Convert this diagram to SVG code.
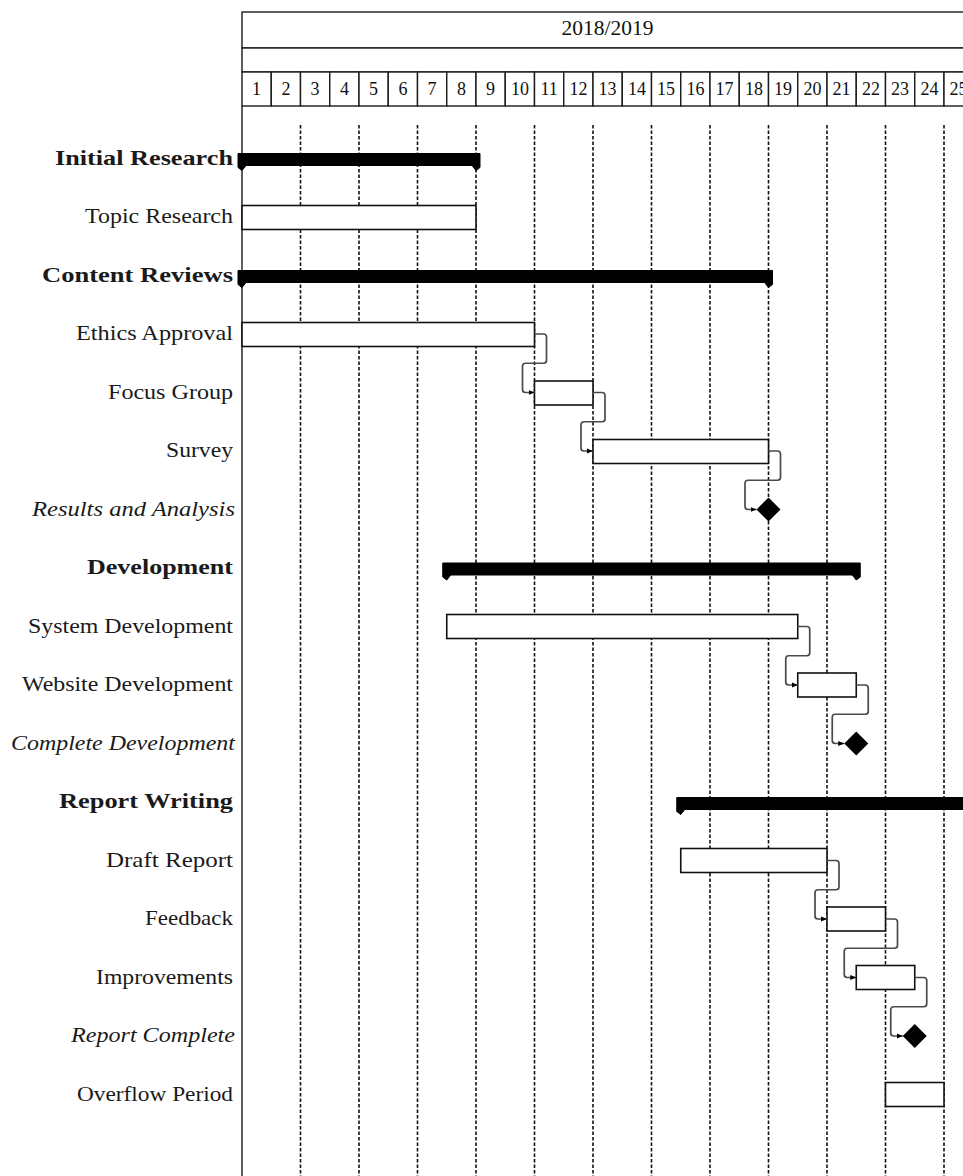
<svg xmlns="http://www.w3.org/2000/svg" width="963" height="1176" viewBox="0 0 963 1176">
<style>
.bg{fill:#ffffff}
.hdr{fill:#ffffff;stroke:#1a1a1a;stroke-width:1.4}
.num{font-family:"Liberation Serif","Times New Roman",serif;font-size:18px;fill:#111;text-anchor:middle}
.title{font-family:"Liberation Serif","Times New Roman",serif;font-size:20px;fill:#111}
.grid{stroke:#111;stroke-width:1.6;stroke-dasharray:3.5 2;fill:none}
.axis{stroke:#1a1a1a;stroke-width:1.4;fill:none}
.lbl{font-family:"Liberation Serif","Times New Roman",serif;font-size:21px;fill:#1a1a1a}
.grp{font-weight:bold}
.ms{font-style:italic}
.bar{fill:#ffffff;stroke:#111;stroke-width:1.6}
.gbar{fill:#000;stroke:#000;stroke-width:1;stroke-linejoin:round}
.dia{fill:#000}
.link{fill:none;stroke:#4a4a4a;stroke-width:1.7;stroke-linejoin:round}
</style>
<defs>
<marker id="arr" markerUnits="userSpaceOnUse" markerWidth="7" markerHeight="6" refX="6" refY="3" orient="auto">
<path d="M0,0.5 L6,3 L0,5.5 z" fill="#000"/>
</marker>
</defs>
<rect class="bg" x="0" y="0" width="963" height="1176"/>

<g id="header">
<rect class="hdr" x="242" y="12" width="731.25" height="36"/>
<rect class="hdr" x="242" y="48" width="731.25" height="24"/>
<text class="title" x="607.6" y="35" text-anchor="middle" textLength="92" lengthAdjust="spacingAndGlyphs">2018/2019</text>
<g id="weeks">
<rect class="hdr" x="242" y="72" width="29.25" height="34"/><text class="num" x="256.6" y="95">1</text>
<rect class="hdr" x="271.25" y="72" width="29.25" height="34"/><text class="num" x="285.9" y="95">2</text>
<rect class="hdr" x="300.5" y="72" width="29.25" height="34"/><text class="num" x="315.1" y="95">3</text>
<rect class="hdr" x="329.75" y="72" width="29.25" height="34"/><text class="num" x="344.4" y="95">4</text>
<rect class="hdr" x="359" y="72" width="29.25" height="34"/><text class="num" x="373.6" y="95">5</text>
<rect class="hdr" x="388.25" y="72" width="29.25" height="34"/><text class="num" x="402.9" y="95">6</text>
<rect class="hdr" x="417.5" y="72" width="29.25" height="34"/><text class="num" x="432.1" y="95">7</text>
<rect class="hdr" x="446.75" y="72" width="29.25" height="34"/><text class="num" x="461.4" y="95">8</text>
<rect class="hdr" x="476" y="72" width="29.25" height="34"/><text class="num" x="490.6" y="95">9</text>
<rect class="hdr" x="505.25" y="72" width="29.25" height="34"/><text class="num" x="519.9" y="95">10</text>
<rect class="hdr" x="534.5" y="72" width="29.25" height="34"/><text class="num" x="549.1" y="95">11</text>
<rect class="hdr" x="563.75" y="72" width="29.25" height="34"/><text class="num" x="578.4" y="95">12</text>
<rect class="hdr" x="593" y="72" width="29.25" height="34"/><text class="num" x="607.6" y="95">13</text>
<rect class="hdr" x="622.25" y="72" width="29.25" height="34"/><text class="num" x="636.9" y="95">14</text>
<rect class="hdr" x="651.5" y="72" width="29.25" height="34"/><text class="num" x="666.1" y="95">15</text>
<rect class="hdr" x="680.75" y="72" width="29.25" height="34"/><text class="num" x="695.4" y="95">16</text>
<rect class="hdr" x="710" y="72" width="29.25" height="34"/><text class="num" x="724.6" y="95">17</text>
<rect class="hdr" x="739.25" y="72" width="29.25" height="34"/><text class="num" x="753.9" y="95">18</text>
<rect class="hdr" x="768.5" y="72" width="29.25" height="34"/><text class="num" x="783.1" y="95">19</text>
<rect class="hdr" x="797.75" y="72" width="29.25" height="34"/><text class="num" x="812.4" y="95">20</text>
<rect class="hdr" x="827" y="72" width="29.25" height="34"/><text class="num" x="841.6" y="95">21</text>
<rect class="hdr" x="856.25" y="72" width="29.25" height="34"/><text class="num" x="870.9" y="95">22</text>
<rect class="hdr" x="885.5" y="72" width="29.25" height="34"/><text class="num" x="900.1" y="95">23</text>
<rect class="hdr" x="914.75" y="72" width="29.25" height="34"/><text class="num" x="929.4" y="95">24</text>
<rect class="hdr" x="944" y="72" width="29.25" height="34"/><text class="num" x="958.6" y="95">25</text>
</g>
</g>

<g id="grid">
<line class="grid" x1="300.5" y1="125" x2="300.5" y2="1176"/>
<line class="grid" x1="359" y1="125" x2="359" y2="1176"/>
<line class="grid" x1="417.5" y1="125" x2="417.5" y2="1176"/>
<line class="grid" x1="476" y1="125" x2="476" y2="1176"/>
<line class="grid" x1="534.5" y1="125" x2="534.5" y2="1176"/>
<line class="grid" x1="593" y1="125" x2="593" y2="1176"/>
<line class="grid" x1="651.5" y1="125" x2="651.5" y2="1176"/>
<line class="grid" x1="710" y1="125" x2="710" y2="1176"/>
<line class="grid" x1="768.5" y1="125" x2="768.5" y2="1176"/>
<line class="grid" x1="827" y1="125" x2="827" y2="1176"/>
<line class="grid" x1="885.5" y1="125" x2="885.5" y2="1176"/>
<line class="grid" x1="944" y1="125" x2="944" y2="1176"/>
<line class="axis" x1="242" y1="106" x2="242" y2="1176"/>
</g>

<g id="labels">
<text class="lbl grp" x="55" y="164.5" textLength="178" lengthAdjust="spacingAndGlyphs">Initial Research</text>
<text class="lbl" x="85" y="223" textLength="148" lengthAdjust="spacingAndGlyphs">Topic Research</text>
<text class="lbl grp" x="42" y="281.5" textLength="191" lengthAdjust="spacingAndGlyphs">Content Reviews</text>
<text class="lbl" x="76" y="340" textLength="157" lengthAdjust="spacingAndGlyphs">Ethics Approval</text>
<text class="lbl" x="108" y="398.5" textLength="125" lengthAdjust="spacingAndGlyphs">Focus Group</text>
<text class="lbl" x="166" y="457" textLength="67" lengthAdjust="spacingAndGlyphs">Survey</text>
<text class="lbl ms" x="32" y="515.5" textLength="203" lengthAdjust="spacingAndGlyphs">Results and Analysis</text>
<text class="lbl grp" x="87" y="574" textLength="146" lengthAdjust="spacingAndGlyphs">Development</text>
<text class="lbl" x="28" y="632.5" textLength="205" lengthAdjust="spacingAndGlyphs">System Development</text>
<text class="lbl" x="22" y="691" textLength="211" lengthAdjust="spacingAndGlyphs">Website Development</text>
<text class="lbl ms" x="11" y="749.5" textLength="224" lengthAdjust="spacingAndGlyphs">Complete Development</text>
<text class="lbl grp" x="59" y="808" textLength="174" lengthAdjust="spacingAndGlyphs">Report Writing</text>
<text class="lbl" x="106" y="866.5" textLength="127" lengthAdjust="spacingAndGlyphs">Draft Report</text>
<text class="lbl" x="145" y="925" textLength="88" lengthAdjust="spacingAndGlyphs">Feedback</text>
<text class="lbl" x="96" y="983.5" textLength="137" lengthAdjust="spacingAndGlyphs">Improvements</text>
<text class="lbl ms" x="71" y="1042" textLength="164" lengthAdjust="spacingAndGlyphs">Report Complete</text>
<text class="lbl" x="77" y="1100.5" textLength="156" lengthAdjust="spacingAndGlyphs">Overflow Period</text>
</g>

<g id="task-topic-research"><rect class="bar" x="242" y="205.5" width="234" height="24"/></g>
<g id="task-ethics-approval"><rect class="bar" x="242" y="322.5" width="292.5" height="24"/></g>
<g id="task-focus-group"><rect class="bar" x="534.5" y="381" width="58.5" height="24"/></g>
<g id="task-survey"><rect class="bar" x="593" y="439.5" width="175.5" height="24"/></g>
<g id="task-system-development"><rect class="bar" x="446.75" y="614.5" width="351" height="24"/></g>
<g id="task-website-development"><rect class="bar" x="797.75" y="673" width="58.5" height="24"/></g>
<g id="task-draft-report"><rect class="bar" x="680.75" y="848.5" width="146.25" height="24"/></g>
<g id="task-feedback"><rect class="bar" x="827" y="907" width="58.5" height="24"/></g>
<g id="task-improvements"><rect class="bar" x="856.25" y="965.5" width="58.5" height="24"/></g>
<g id="task-overflow-period"><rect class="bar" x="885.5" y="1082.5" width="58.5" height="24"/></g>

<g id="group-initial-research"><path class="gbar" d="M238,153.5 H480 V167.5 L476,170.5 L472,165.5 H246 L242,170.5 L238,167.5 Z"/></g>
<g id="group-content-reviews"><path class="gbar" d="M238,270.5 H772.5 V284.5 L768.5,287.5 L764.5,282.5 H246 L242,287.5 L238,284.5 Z"/></g>
<g id="group-development"><path class="gbar" d="M442.75,563 H860.25 V577 L856.25,580 L852.25,575 H450.75 L446.75,580 L442.75,577 Z"/></g>
<g id="group-report-writing"><path class="gbar" d="M676.75,797.5 H977.25 V811.5 L973.25,814.5 L969.25,809.5 H684.75 L680.75,814.5 L676.75,811.5 Z"/></g>

<g id="milestone-results-and-analysis"><polygon class="dia" points="768.5,497.5 780.5,509.5 768.5,521.5 756.5,509.5"/></g>
<g id="milestone-complete-development"><polygon class="dia" points="856.25,731.5 868.25,743.5 856.25,755.5 844.25,743.5"/></g>
<g id="milestone-report-complete"><polygon class="dia" points="914.75,1024 926.75,1036 914.75,1048 902.75,1036"/></g>

<g id="connectors">
<path class="link" marker-end="url(#arr)" d="M534.5,334 H543.5 Q546.5,334 546.5,337 V360.25 Q546.5,363.25 543.5,363.25 H525.5 Q522.5,363.25 522.5,366.25 V389.5 Q522.5,392.5 525.5,392.5 H534.5"/>
<path class="link" marker-end="url(#arr)" d="M593,392.5 H602 Q605,392.5 605,395.5 V418.75 Q605,421.75 602,421.75 H584 Q581,421.75 581,424.75 V448 Q581,451 584,451 H593"/>
<path class="link" marker-end="url(#arr)" d="M768.5,451 H777.5 Q780.5,451 780.5,454 V477.25 Q780.5,480.25 777.5,480.25 H748 Q745,480.25 745,483.25 V506.5 Q745,509.5 748,509.5 H756.5"/>
<path class="link" marker-end="url(#arr)" d="M797.75,626.5 H806.75 Q809.75,626.5 809.75,629.5 V652.75 Q809.75,655.75 806.75,655.75 H788.75 Q785.75,655.75 785.75,658.75 V682 Q785.75,685 788.75,685 H797.75"/>
<path class="link" marker-end="url(#arr)" d="M856.25,685 H865.25 Q868.25,685 868.25,688 V711.25 Q868.25,714.25 865.25,714.25 H835.25 Q832.25,714.25 832.25,717.25 V740.5 Q832.25,743.5 835.25,743.5 H844.25"/>
<path class="link" marker-end="url(#arr)" d="M827,860.5 H836 Q839,860.5 839,863.5 V886.75 Q839,889.75 836,889.75 H818 Q815,889.75 815,892.75 V916 Q815,919 818,919 H827"/>
<path class="link" marker-end="url(#arr)" d="M885.5,919 H894.5 Q897.5,919 897.5,922 V945.25 Q897.5,948.25 894.5,948.25 H847.25 Q844.25,948.25 844.25,951.25 V974.5 Q844.25,977.5 847.25,977.5 H856.25"/>
<path class="link" marker-end="url(#arr)" d="M914.75,977.5 H923.75 Q926.75,977.5 926.75,980.5 V1003.75 Q926.75,1006.75 923.75,1006.75 H893.75 Q890.75,1006.75 890.75,1009.75 V1033 Q890.75,1036 893.75,1036 H902.75"/>
</g>
</svg>
